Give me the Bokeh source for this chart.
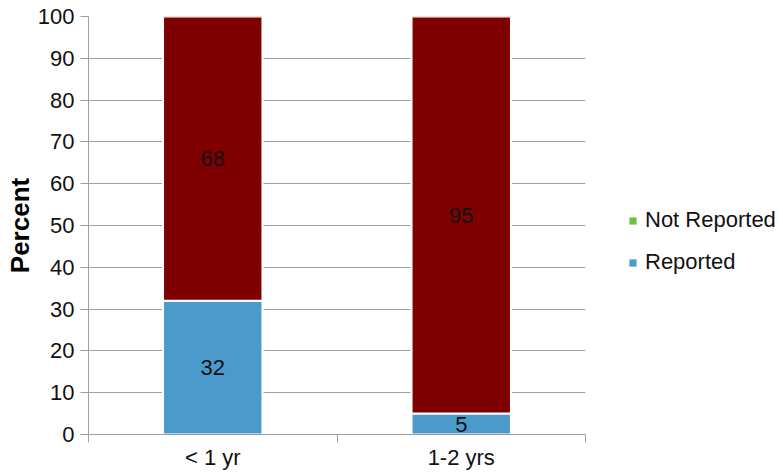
from bokeh.plotting import figure
from bokeh.layouts import row
from bokeh.models import ColumnDataSource, FixedTicker, Legend, LegendItem
from bokeh.core.properties import value
from bokeh.embed import file_html
from bokeh.resources import INLINE

categories = ["< 1 yr", "1-2 yrs"]
reported = [32, 5]
not_reported = [68, 95]
y_ticks = [0, 10, 20, 30, 40, 50, 60, 70, 80, 90, 100]
legend_labels = ["Not Reported", "Reported"]

FONT = "Liberation Sans"
BLUE = "#4a9bcb"
RED = "#7f0000"
GREEN = "#72bf44"
GRID = "#a0a0a0"

xs = [i + 0.5 for i in range(len(categories))]
rep_mid = [r / 2 for r in reported]
nrep_mid = [r + n / 2 for r, n in zip(reported, not_reported)]

src = ColumnDataSource(dict(
    x=xs, reported=reported, not_reported=not_reported,
    rep_top=reported, nrep_top=[r + n for r, n in zip(reported, not_reported)],
    rep_mid=rep_mid, nrep_mid=nrep_mid,
    rep_lab=[str(v) for v in reported], nrep_lab=[str(v) for v in not_reported],
))

H = 472
p = figure(width=595, height=H, x_range=(0, len(categories)), y_range=(0, 100),
           output_backend="svg", toolbar_location=None,
           min_border_left=88, min_border_right=10, min_border_top=16, min_border_bottom=35)
p.outline_line_color = None

rep_r = p.vbar(x="x", bottom=0, top="rep_top", width=0.4, source=src,
               fill_color=BLUE, line_color="white", line_width=2)
nrep_r = p.vbar(x="x", bottom="rep_top", top="nrep_top", width=0.4, source=src,
                fill_color=RED, line_color="white", line_width=2)

p.text(x="x", y="rep_mid", text="rep_lab", source=src, text_align="center",
       text_baseline="middle", text_font=value(FONT), text_font_size="22px", text_color="#111111")
p.text(x="x", y="nrep_mid", text="nrep_lab", source=src, text_align="center",
       text_baseline="middle", text_font=value(FONT), text_font_size="22px", text_color="#111111")

# x axis
p.xaxis.ticker = FixedTicker(ticks=xs, minor_ticks=list(range(len(categories) + 1)))
p.xaxis.major_label_overrides = {x: c for x, c in zip(xs, categories)}
p.xaxis.major_tick_line_color = None
p.xaxis.minor_tick_line_color = GRID
p.xaxis.minor_tick_out = 8
p.xaxis.minor_tick_in = 0
p.xaxis.axis_line_color = GRID
p.xaxis.major_label_text_font = FONT
p.xaxis.major_label_text_font_size = "22px"
p.xaxis.major_label_text_color = "#111111"
p.xaxis.major_label_standoff = 2
p.xgrid.grid_line_color = None

# y axis
p.yaxis.ticker = FixedTicker(ticks=y_ticks)
p.yaxis.axis_label = "Percent"
p.yaxis.axis_label_text_font = FONT
p.yaxis.axis_label_text_font_style = "bold"
p.yaxis.axis_label_text_font_size = "26px"
p.yaxis.axis_label_text_color = "#000000"
p.yaxis.axis_label_standoff = 0
p.yaxis.major_label_text_font = FONT
p.yaxis.major_label_text_font_size = "22px"
p.yaxis.major_label_text_color = "#111111"
p.yaxis.major_label_standoff = 6
p.yaxis.axis_line_color = GRID
p.yaxis.major_tick_line_color = GRID
p.yaxis.major_tick_out = 8
p.yaxis.major_tick_in = 0
p.yaxis.minor_tick_line_color = None
p.ygrid.grid_line_color = GRID

# legend panel (separate figure so the legend sits to the right of the plot)
lg = figure(width=188, height=H, x_range=(0, len(categories)), y_range=(0, 100),
            output_backend="svg", toolbar_location=None,
            min_border=0, min_border_left=0, min_border_right=0,
            min_border_top=0, min_border_bottom=0)
lg.axis.visible = False
lg.grid.visible = False
lg.outline_line_color = None
green_proxy = lg.vbar(x="x", bottom=0, top=0, width=0.4, source=src,
                      fill_color=GREEN, line_color=None)
blue_proxy = lg.vbar(x="x", bottom=0, top=0, width=0.4, source=src,
                     fill_color=BLUE, line_color=None)
legend = Legend(items=[LegendItem(label=legend_labels[0], renderers=[green_proxy]),
                       LegendItem(label=legend_labels[1], renderers=[blue_proxy])],
                location=(33, 159), glyph_width=9, glyph_height=9, label_height=22,
                spacing=16, label_standoff=8, padding=0, margin=0,
                border_line_color=None, background_fill_alpha=0,
                label_text_font=FONT, label_text_font_size="22px", label_text_color="#111111")
lg.add_layout(legend, "center")

layout = row(p, lg, spacing=0)
open("out.html", "w").write(file_html(layout, INLINE))
